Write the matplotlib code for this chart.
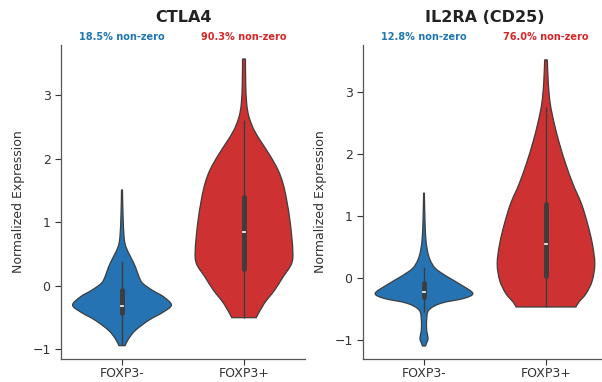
import matplotlib
matplotlib.use("Agg")
import matplotlib.pyplot as plt
import matplotlib.transforms as mtransforms
from matplotlib.path import Path
from matplotlib.patches import PathPatch

# groups and annotation text
groups = ["FOXP3-", "FOXP3+"]
genes = ["CTLA4", "IL2RA (CD25)"]
nonzero = [["18.5% non-zero", "90.3% non-zero"],
           ["12.8% non-zero", "76.0% non-zero"]]

# violin outlines: expression level and half width
ctla4_neg_y = [1.51, 1.14, 0.77, 0.61, 0.46, 0.30, 0.14, 0.04, -0.07, -0.17, -0.30, -0.41, -0.54, -0.70, -0.83, -0.94]
ctla4_neg_w = [0.004, 0.008, 0.017, 0.033, 0.07, 0.11, 0.14, 0.17, 0.25, 0.34, 0.405, 0.34, 0.22, 0.11, 0.055, 0.025]
ctla4_pos_y = [3.57, 3.19, 2.87, 2.66, 2.45, 2.24, 2.03, 1.82, 1.61, 1.35, 0.98, 0.56, 0.35, 0.14, -0.07, -0.28, -0.50]
ctla4_pos_w = [0.012, 0.014, 0.022, 0.041, 0.083, 0.15, 0.22, 0.28, 0.32, 0.35, 0.38, 0.40, 0.39, 0.32, 0.25, 0.165, 0.10]
il2ra_neg_y = [1.37, 0.93, 0.66, 0.45, 0.29, 0.15, 0.02, -0.12, -0.25, -0.33, -0.41, -0.52, -0.68, -0.84, -0.98, -1.06, -1.10]
il2ra_neg_w = [0.003, 0.008, 0.014, 0.027, 0.05, 0.095, 0.19, 0.31, 0.40, 0.33, 0.14, 0.04, 0.022, 0.022, 0.033, 0.02, 0.012]
il2ra_pos_y = [3.52, 3.14, 2.81, 2.49, 2.17, 1.85, 1.52, 1.20, 0.88, 0.55, 0.23, -0.04, -0.25, -0.39, -0.47]
il2ra_pos_w = [0.011, 0.019, 0.035, 0.068, 0.11, 0.16, 0.22, 0.29, 0.34, 0.38, 0.40, 0.38, 0.33, 0.27, 0.245]

# box stats: whisker low, q1, median, q3, whisker high
ctla4_box = [[-0.93, -0.43, -0.32, -0.07, 0.39], [-0.50, 0.27, 0.85, 1.40, 2.61]]
il2ra_box = [[-0.55, -0.31, -0.23, -0.08, 0.18], [-0.47, 0.03, 0.54, 1.20, 2.76]]

violins = [[(ctla4_neg_y, ctla4_neg_w), (ctla4_pos_y, ctla4_pos_w)],
           [(il2ra_neg_y, il2ra_neg_w), (il2ra_pos_y, il2ra_pos_w)]]
boxes = [ctla4_box, il2ra_box]
ylims = [(-1.15, 3.79), (-1.31, 3.76)]

fill_colors = ["#2573b2", "#cd3131"]
text_colors = ["#1f77b4", "#d62728"]
edge = "#3d3d3d"


def side_path(pts):
    # catmull-rom curve through the outline points of one side
    verts, codes = [], []
    n = len(pts)
    for j in range(n - 1):
        p0 = pts[max(j - 1, 0)]
        p1 = pts[j]
        p2 = pts[j + 1]
        p3 = pts[min(j + 2, n - 1)]
        c1 = (p1[0] + (p2[0] - p0[0]) / 6, p1[1] + (p2[1] - p0[1]) / 6)
        c2 = (p2[0] - (p3[0] - p1[0]) / 6, p2[1] - (p3[1] - p1[1]) / 6)
        verts += [c1, c2, p2]
        codes += [Path.CURVE4] * 3
    return verts, codes


def violin_patch(pos, ys, ws, color):
    right = [(pos + w, y) for y, w in zip(ys, ws)]
    left = [(pos - w, y) for y, w in zip(ys[::-1], ws[::-1])]
    v1, c1 = side_path(right)
    v2, c2 = side_path(left)
    verts = [right[0]] + v1 + [left[0]] + v2 + [right[0]]
    codes = [Path.MOVETO] + c1 + [Path.LINETO] + c2 + [Path.CLOSEPOLY]
    return PathPatch(Path(verts, codes), fc=color, ec=edge, lw=0.9, zorder=2)


fig = plt.figure(figsize=(6.02, 3.82), dpi=100)
positions = [[61 / 602, 23 / 382, 244 / 602, 314 / 382],
             [363 / 602, 23 / 382, 244 / 602, 314 / 382]]

for k in range(2):
    ax = fig.add_axes(positions[k])
    for i in range(2):
        ys, ws = violins[k][i]
        ax.add_patch(violin_patch(i, ys, ws, fill_colors[i]))
        lo, q1, med, q3, hi = boxes[k][i]
        ax.plot([i, i], [lo, hi], color=edge, lw=1.0, zorder=3, solid_capstyle="butt")
        ax.plot([i, i], [q1, q3], color=edge, lw=3.5, zorder=3, solid_capstyle="round")
        ax.plot([i - 0.012, i + 0.012], [med, med], color="white", lw=1.2, zorder=4)
        trans = mtransforms.blended_transform_factory(ax.transData, ax.transAxes)
        ax.text(i, 1.025, nonzero[k][i], transform=trans, ha="center", va="center",
                fontsize=7, fontweight="bold", color=text_colors[i])
    ax.set_xlim(-0.5, 1.5)
    ax.set_ylim(*ylims[k])
    ax.set_xticks([0, 1])
    ax.set_xticklabels(groups)
    ax.set_yticks([-1, 0, 1, 2, 3])
    ax.set_ylabel("Normalized Expression", fontsize=9, color="#333333", labelpad=5)
    ax.tick_params(labelsize=9, colors="#333333", length=4, width=0.8)
    ax.tick_params(axis="x", pad=1.5)
    for s in ["top", "right"]:
        ax.spines[s].set_visible(False)
    for s in ["left", "bottom"]:
        ax.spines[s].set_color("#555555")
        ax.spines[s].set_linewidth(0.9)
    fig.text((positions[k][0] + positions[k][0] + positions[k][2]) / 2, 1 - 18 / 382,
             genes[k], ha="center", va="center", fontsize=11.5, fontweight="bold",
             color="#222222")

fig.savefig("out.png", dpi=100)
